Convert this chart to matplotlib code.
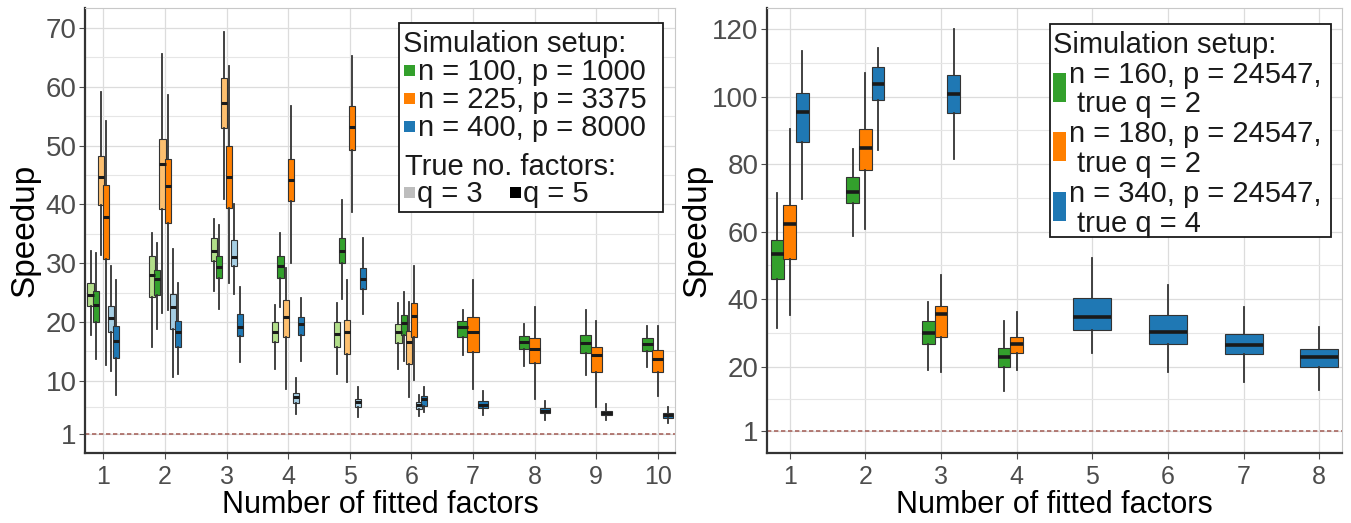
import matplotlib
matplotlib.use('Agg')
import matplotlib.pyplot as plt
from matplotlib.patches import Rectangle

plt.rcParams['font.family'] = ['Liberation Sans', 'DejaVu Sans']

# box stats per fitted-factor count: (whisker low, q1, median, q3, whisker high)
left_factors = [1, 2, 3, 4, 5, 6, 7, 8, 9, 10]
green_q3 = [(17.8, 22.7, 24.5, 26.6, 32.0), (15.8, 24.3, 27.95, 31.2, 35.2),
            (25.3, 30.4, 32.1, 34.2, 37.45), (12.0, 16.6, 18.3, 19.9, 22.85),
            (11.1, 15.7, 18.0, 20.0, 23.3), (12.0, 16.4, 18.3, 19.6, 23.3)]
green_q5 = [(13.7, 20.0, 22.85, 25.2, 31.8), (18.8, 24.6, 27.3, 28.85, 33.5),
            (22.2, 27.55, 29.4, 31.2, 36.5), (22.5, 27.4, 29.5, 31.2, 35.2),
            (23.9, 30.1, 32.1, 34.35, 40.7), (13.4, 17.75, 19.8, 21.15, 25.1),
            (14.4, 17.5, 19.1, 20.2, 22.05), (12.5, 15.35, 16.5, 17.6, 19.6),
            (10.9, 14.7, 16.35, 17.75, 22.05), (12.3, 15.1, 16.2, 17.25, 19.35)]
orange_q3 = [(31.3, 39.9, 44.7, 48.2, 59.1), (21.6, 39.15, 46.8, 51.15, 65.6),
             (40.85, 53.0, 57.3, 61.5, 69.4), (8.6, 17.5, 20.9, 23.75, 29.25),
             (9.8, 14.5, 18.3, 20.35, 27.15), (7.2, 12.8, 16.6, 18.5, 23.4)]
orange_q5 = [(12.7, 30.7, 37.9, 43.3, 54.1), (22.0, 36.9, 43.2, 47.75, 58.6),
             (26.7, 39.4, 44.6, 50.0, 63.5), (30.1, 40.55, 44.1, 47.75, 56.7),
             (38.7, 49.3, 53.1, 56.7, 65.2), (10.2, 17.5, 21.0, 23.2, 29.5),
             (8.6, 14.8, 18.3, 20.9, 27.15), (6.9, 12.95, 15.35, 17.25, 22.55),
             (5.5, 11.5, 14.4, 15.8, 20.2), (7.45, 11.5, 13.7, 15.3, 19.25)]
blue_q3 = [(11.7, 18.2, 20.7, 22.7, 29.5), (10.6, 18.8, 22.5, 24.7, 32.4),
           (24.7, 29.5, 31.1, 33.9, 40.0), (4.4, 6.2, 7.2, 7.9, 10.4),
           (3.8, 5.6, 6.3, 6.9, 8.9), (4.05, 5.2, 5.85, 6.3, 7.6)]
blue_q5 = [(7.6, 13.85, 16.8, 19.3, 27.1), (11.1, 15.7, 18.2, 20.2, 26.7),
           (13.2, 17.6, 19.1, 21.3, 26.0), (13.4, 17.75, 19.6, 20.9, 24.0),
           (21.3, 25.6, 27.3, 29.25, 34.35), (4.6, 5.75, 6.9, 7.45, 8.9),
           (4.1, 5.3, 5.9, 6.5, 8.3), (3.25, 4.45, 4.9, 5.35, 6.5),
           (3.25, 4.1, 4.5, 4.9, 6.0), (2.75, 3.6, 4.1, 4.45, 5.5)]

right_factors = [1, 2, 3, 4, 5, 6, 7, 8]
green_r = [(31.4, 46.0, 53.5, 57.6, 71.4), (58.8, 68.5, 71.6, 76.2, 84.5),
           (19.1, 26.7, 30.1, 33.7, 39.3), (12.9, 20.05, 23.0, 25.7, 33.7)]
orange_r = [(35.3, 51.8, 62.2, 67.9, 90.3), (60.8, 78.2, 84.8, 90.3, 106.9),
            (18.6, 28.9, 35.7, 38.0, 47.1), (19.1, 24.2, 26.8, 28.9, 36.35)]
blue_r_x = [1, 2, 3, 5, 6, 7, 8]
blue_r = [(69.6, 86.6, 95.5, 101.1, 113.6), (84.1, 99.0, 103.6, 108.8, 114.3),
          (81.4, 95.0, 100.6, 106.4, 119.9), (24.0, 30.9, 34.7, 40.5, 52.3),
          (18.6, 26.8, 30.4, 35.4, 44.3), (15.6, 23.7, 26.5, 29.6, 37.6),
          (13.1, 20.05, 22.8, 25.3, 31.9)]

left_yticks = [1, 10, 20, 30, 40, 50, 60, 70]
right_yticks = [1, 20, 40, 60, 80, 100, 120]

leg1_labels = ['n = 100, p = 1000', 'n = 225, p = 3375', 'n = 400, p = 8000']
leg1_q = ['q = 3', 'q = 5']
leg2_labels = [('n = 160, p = 24547,', 'true q = 2'),
               ('n = 180, p = 24547,', 'true q = 2'),
               ('n = 340, p = 24547,', 'true q = 4')]

GREEN, ORANGE, BLUE = '#33a02c', '#ff7f00', '#1f78b4'
LGREEN, LORANGE, LBLUE = '#b2df8a', '#fdbf6f', '#a6cee3'

W, H = 1351, 523
fig = plt.figure(figsize=(W / 100, H / 100), dpi=100)
ax1 = fig.add_axes([85 / W, 1 - 453 / H, 590 / W, 445 / H])
ax2 = fig.add_axes([767 / W, 1 - 453 / H, 575 / W, 445 / H])


def boxes(ax, rows, pos, wid, face, med_lw=2.2):
    stats = [dict(whislo=r[0], q1=r[1], med=r[2], q3=r[3], whishi=r[4], fliers=[])
             for r in rows]
    ax.bxp(stats, positions=pos, widths=wid, patch_artist=True,
           showcaps=False, showfliers=False, manage_ticks=False,
           boxprops=dict(facecolor=face, edgecolor='#333333', linewidth=0.8),
           whiskerprops=dict(color='#333333', linewidth=1.3),
           medianprops=dict(color='#1a1a1a', linewidth=med_lw))


def style(ax, yticks, minor, ylim, xlim, xt):
    ax.set_xlim(*xlim)
    ax.set_ylim(*ylim)
    ax.set_yticks(yticks)
    ax.set_yticks(minor, minor=True)
    ax.set_xticks(xt)
    ax.grid(True, which='major', color='#dcdcdc', linewidth=0.9, zorder=0)
    ax.grid(True, which='minor', axis='y', color='#e6e6e6', linewidth=0.8, zorder=0)
    ax.set_axisbelow(True)
    ax.tick_params(axis='y', which='major', labelsize=20, colors='#4d4d4d',
                   length=4, pad=2)
    ax.tick_params(axis='x', which='major', labelsize=18, colors='#4d4d4d',
                   length=4, pad=5)
    ax.tick_params(which='minor', length=0)
    for s in ['left', 'bottom']:
        ax.spines[s].set_color('#333333')
        ax.spines[s].set_linewidth(1.6)
    for s in ['top', 'right']:
        ax.spines[s].set_color('#c8c8c8')
        ax.spines[s].set_linewidth(0.8)
    ax.axhline(1, color='#a8665f', linewidth=1.2, linestyle=(0, (2.6, 1.6)), zorder=1)
    ax.set_xlabel('Number of fitted factors', fontsize=22, va='baseline')
    ax.xaxis.set_label_coords(0.5, -60 / 445)
    ax.set_ylabel('Speedup', fontsize=24, va='center')


# left panel
six = [-0.21, -0.126, -0.042, 0.042, 0.126, 0.21]
three = [-0.17, 0.0, 0.165]
first6 = left_factors[:6]
boxes(ax1, green_q3, [x + six[0] for x in first6], 0.1, LGREEN)
boxes(ax1, green_q5[:6], [x + six[1] for x in first6], 0.1, GREEN)
boxes(ax1, orange_q3, [x + six[2] for x in first6], 0.1, LORANGE)
boxes(ax1, orange_q5[:6], [x + six[3] for x in first6], 0.1, ORANGE)
boxes(ax1, blue_q3, [x + six[4] for x in first6], 0.1, LBLUE)
boxes(ax1, blue_q5[:6], [x + six[5] for x in first6], 0.1, BLUE)
last4 = left_factors[6:]
boxes(ax1, green_q5[6:], [x + three[0] for x in last4], 0.17, GREEN)
boxes(ax1, orange_q5[6:], [x + three[1] for x in last4], 0.18, ORANGE)
boxes(ax1, blue_q5[6:], [x + three[2] for x in last4], 0.17, BLUE)
style(ax1, left_yticks,
      [(a + b) / 2 for a, b in zip(left_yticks[:-1], left_yticks[1:])],
      (-2.3, 73.4), (0.7, 10.28), left_factors)
ax1.yaxis.set_label_coords(-60 / 590, 0.5)

# right panel
boxes(ax2, green_r, [x - 1 / 6 for x in right_factors[:4]], 0.17, GREEN, 2.6)
boxes(ax2, orange_r, [x for x in right_factors[:4]], 0.17, ORANGE, 2.6)
boxes(ax2, blue_r[:3], [x + 1 / 6 for x in blue_r_x[:3]], 0.17, BLUE, 2.6)
boxes(ax2, blue_r[3:], blue_r_x[3:], 0.5, BLUE, 2.6)
style(ax2, right_yticks,
      [(a + b) / 2 for a, b in zip(right_yticks[:-1], right_yticks[1:])],
      (-5.5, 126.2), (0.7, 8.3), right_factors)
ax2.yaxis.set_label_coords(-70 / 575, 0.5)


# legends, placed in pixel coordinates of the figure
def fx(x):
    return x / W


def fy(y):
    return 1 - y / H


def frame(x0, y0, x1, y1):
    fig.add_artist(Rectangle((fx(x0), fy(y1)), fx(x1) - fx(x0), fy(y0) - fy(y1),
                             transform=fig.transFigure, facecolor='white',
                             edgecolor='#1a1a1a', linewidth=1.3, zorder=2))


def key(x0, y0, x1, y1, c):
    fig.add_artist(Rectangle((fx(x0), fy(y1)), fx(x1) - fx(x0), fy(y0) - fy(y1),
                             transform=fig.transFigure, facecolor=c,
                             edgecolor='none', zorder=3))


def txt(x, y, s):
    fig.text(fx(x), fy(y), s, fontsize=21, va='baseline', ha='left',
             color='#1a1a1a', zorder=4)


frame(399, 23, 663, 212)
txt(403, 52, 'Simulation setup:')
for i, (lab, c) in enumerate(zip(leg1_labels, [GREEN, ORANGE, BLUE])):
    b = 80 + 28 * i
    key(404, b - 15, 415, b - 4, c)
    txt(418, b, lab)
txt(405, 175, 'True no. factors:')
key(404, 187, 415, 198, '#bdbdbd')
txt(417, 202, leg1_q[0])
key(510, 187, 521, 198, '#000000')
txt(523, 202, leg1_q[1])

frame(1050, 24, 1331, 237)
txt(1053, 53, 'Simulation setup:')
for i, ((l1, l2), c) in enumerate(zip(leg2_labels, [GREEN, ORANGE, BLUE])):
    b = 83 + 59.5 * i
    key(1053, b - 10, 1066, b + 19, c)
    txt(1069, b, l1)
    txt(1077, b + 29.5, l2)

fig.savefig('out.png', dpi=100)
